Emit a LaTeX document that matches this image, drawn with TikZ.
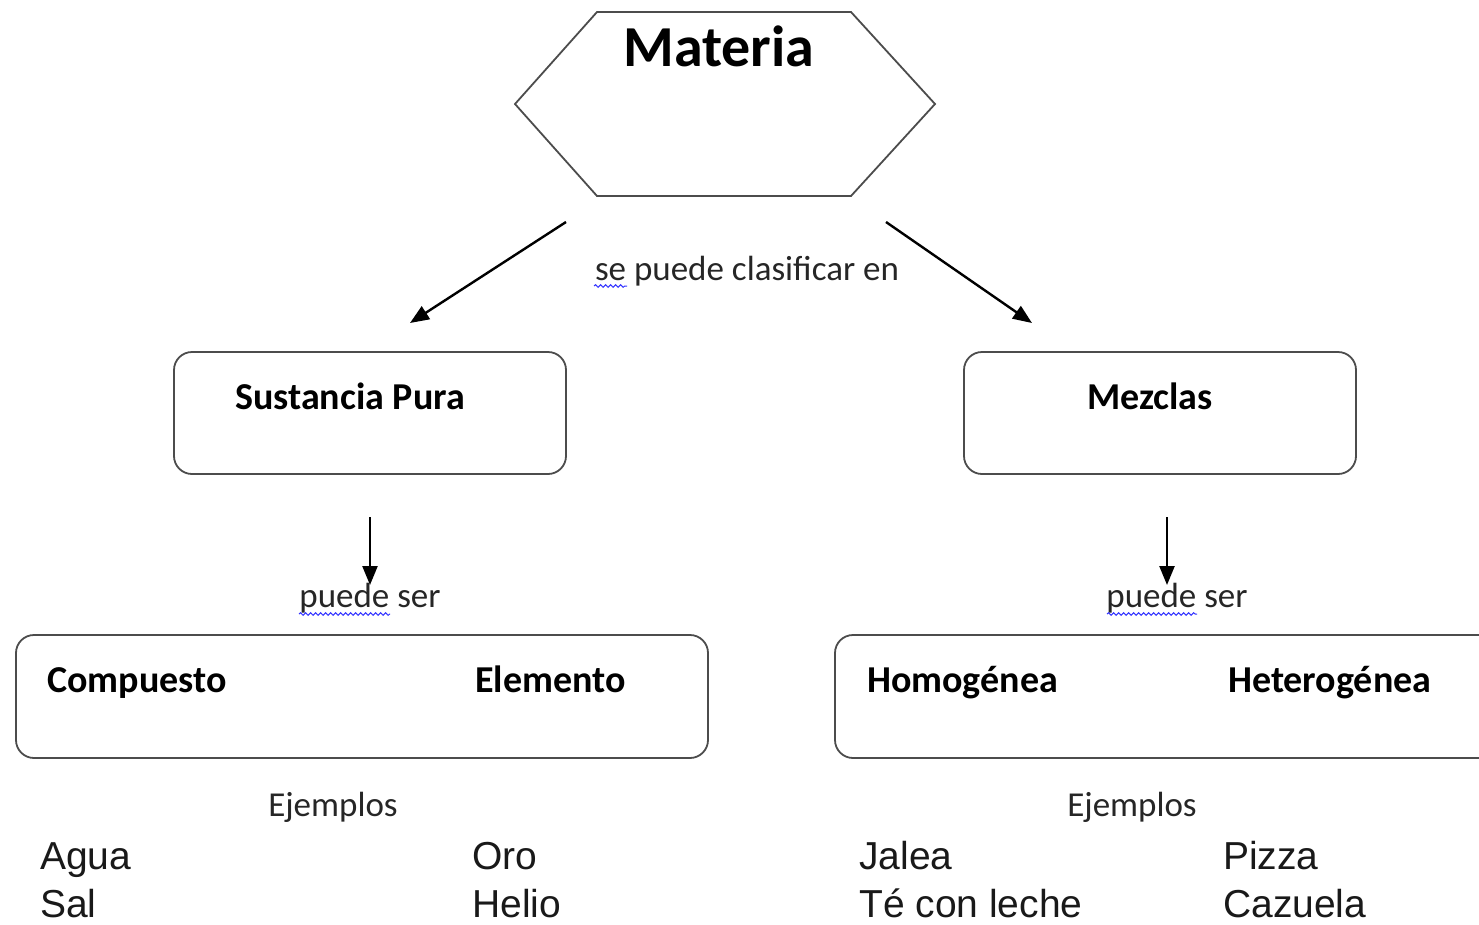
\documentclass[tikz,border=0pt]{standalone}
\usepackage{fontspec}
\setmainfont{Carlito}
\newfontfamily\arialf{Liberation Sans}
\usetikzlibrary{arrows.meta,decorations.pathmorphing}
\tikzset{
  box/.style={draw=black!70, line width=1.8pt, rounded corners=18pt},
  conn/.style={line width=2.4pt, -{Triangle[length=19pt,width=15pt]}},
  lbl/.style={font=\fontsize{35}{40}\selectfont, inner sep=0pt, text=black!85},
  head/.style={font=\fontsize{38}{42}\selectfont\bfseries, inner sep=0pt},
  ex/.style={font=\arialf\fontsize{39}{44}\selectfont, inner sep=0pt, anchor=base west, text=black!90},
  squig/.style={draw=blue!80, line width=1pt, decorate, decoration={snake, amplitude=1.3pt, segment length=5pt}}
}
\begin{document}
\begin{tikzpicture}[x=1pt,y=-1pt]
\useasboundingbox (0,0) rectangle (1479,924);
\clip (0,0) rectangle (1479,924);
% hexagon
\draw[draw=black!70, line width=1.8pt] (597,12) -- (851,12) -- (935,104) -- (851,196) -- (597,196) -- (515,104) -- cycle;
\node[font=\fontsize{58}{64}\selectfont\bfseries, inner sep=0pt, anchor=base] (mat) at (719,66) {Materia};
\coordinate (hexL) at (566,222);
\coordinate (hexR) at (886,222);
\coordinate (spT) at (410,323);
\coordinate (mzT) at (1032,323);
\draw[conn] (hexL) -- (spT);
\draw[conn] (hexR) -- (mzT);
\node[lbl, anchor=base] (clas) at (747,280) {se puede clasificar en};
\draw[squig] (594,286) -- (627,286);
% level 2 boxes
\draw[box] (174,352) rectangle (566,474);
\node[head, anchor=base] (sp) at (350,409) {Sustancia Pura};
\draw[box] (964,352) rectangle (1356,474);
\node[head, anchor=base] (mz) at (1150,409) {Mezclas};
% down arrows
\coordinate (spB) at (370,517);
\coordinate (spA) at (370,585);
\coordinate (mzB) at (1167,517);
\coordinate (mzA) at (1167,585);
\draw[conn] (spB) -- (spA);
\draw[conn] (mzB) -- (mzA);
\node[lbl, anchor=base] (ps1) at (370,607) {puede ser};
\node[lbl, anchor=base] (ps2) at (1177,607) {puede ser};
\draw[squig] (299,614) -- (390,614);
\draw[squig] (1107,614) -- (1197,614);
% level 3 boxes
\draw[box] (16,635) rectangle (708,758);
\node[head, anchor=base west] (comp) at (47,692) {Compuesto};
\node[head, anchor=base west] (elem) at (475,692) {Elemento};
\draw[box] (835,635) rectangle (1500,758);
\node[head, anchor=base west] (homo) at (867,692) {Homogénea};
\node[head, anchor=base west] (hete) at (1228,692) {Heterogénea};
% examples
\node[lbl, anchor=base] (ej1) at (333,816) {Ejemplos};
\node[lbl, anchor=base] (ej2) at (1132,816) {Ejemplos};
\node[ex] (agua) at (40,869) {Agua};
\node[ex] (sal) at (40,917) {Sal};
\node[ex] (oro) at (472,869) {Oro};
\node[ex] (helio) at (472,917) {Helio};
\node[ex] (jalea) at (859,869) {Jalea};
\node[ex] (te) at (859,917) {Té con leche};
\node[ex] (pizza) at (1223,869) {Pizza};
\node[ex] (cazuela) at (1223,917) {Cazuela};
\end{tikzpicture}
\end{document}
